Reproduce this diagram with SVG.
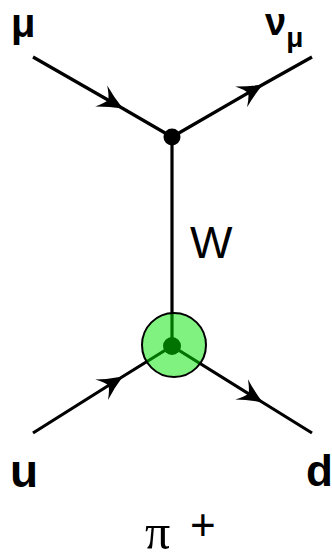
<svg xmlns="http://www.w3.org/2000/svg" width="332" height="560" viewBox="0 0 332 560">
  <style>
    .line { stroke: #000; stroke-width: 3.2; fill: none; }
    .lbl { font-family: "Liberation Sans", Arial, sans-serif; fill: #000; }
    .b { font-weight: bold; }
  </style>
  <defs>
    <marker id="arrow" markerUnits="userSpaceOnUse" viewBox="-26 -14 28 28" refX="0" refY="0" markerWidth="28" markerHeight="28" orient="auto" overflow="visible">
      <path d="M1,0 Q-12,-5 -24,-12 Q-17,-4 -16,0 Q-17,4 -24,12 Q-12,5 1,0 Z" fill="#000"/>
    </marker>
  </defs>
  <rect width="332" height="560" fill="#fff"/>
  <g id="connectors">
    <polyline class="line" points="33,57 122,108 172,137" marker-mid="url(#arrow)"/>
    <polyline class="line" points="172,137 262,85 312,57" marker-mid="url(#arrow)"/>
    <line class="line" x1="172" y1="137" x2="172" y2="346"/>
    <polyline class="line" points="33,433 122,377 172,346" marker-mid="url(#arrow)"/>
    <polyline class="line" points="172,346 262,402 312,433" marker-mid="url(#arrow)"/>
  </g>
  <g id="vertex-top">
    <circle cx="172" cy="137" r="8.5" fill="#000"/>
  </g>
  <g id="vertex-bottom">
    <circle cx="172" cy="346" r="9" fill="#000"/>
    <circle cx="174" cy="345" r="32" fill="#00e600" fill-opacity="0.5" stroke="#000" stroke-width="2"/>
  </g>
  <g id="label-mu">
    <text class="lbl b" x="11" y="37" font-size="40">μ</text>
  </g>
  <g id="label-numu">
    <text class="lbl b" x="265" y="35" font-size="38">ν<tspan font-size="28" dy="12">μ</tspan></text>
  </g>
  <g id="label-W">
    <text class="lbl" x="190" y="258" font-size="45">W</text>
  </g>
  <g id="label-u">
    <text class="lbl b" x="10" y="487" font-size="46">u</text>
  </g>
  <g id="label-d">
    <text class="lbl b" x="306" y="486" font-size="44">d</text>
  </g>
  <g id="label-pi">
    <text x="145" y="549" font-size="50" font-family="'Liberation Serif', 'Times New Roman', serif">π</text>
    <text class="lbl" x="190" y="540" font-size="44">+</text>
  </g>
</svg>
